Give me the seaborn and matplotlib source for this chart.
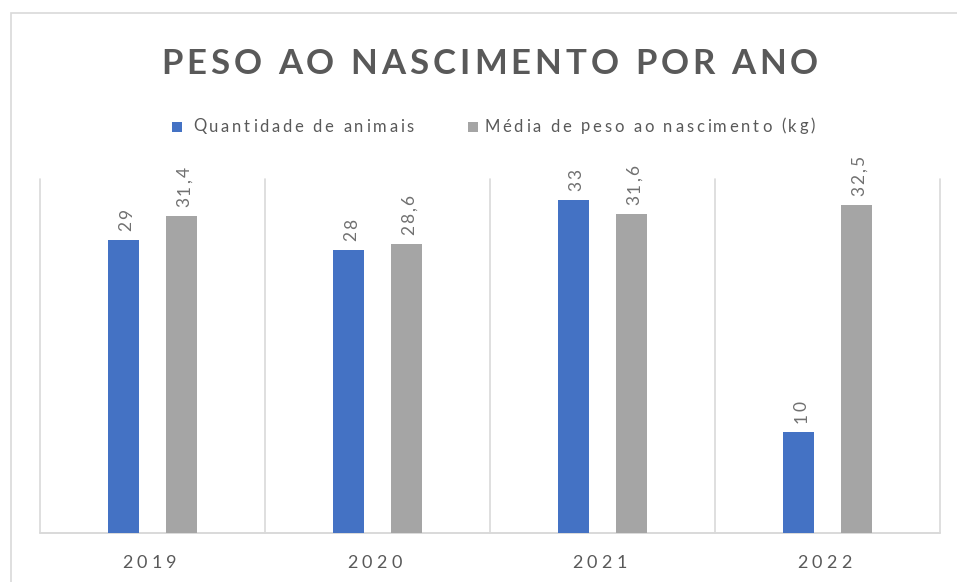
import matplotlib
matplotlib.use("Agg")
import matplotlib.pyplot as plt
import pandas as pd
import seaborn as sns
from matplotlib.font_manager import FontProperties, findfont, get_font
from matplotlib.patches import Rectangle
from matplotlib.transforms import IdentityTransform

# ---- data ----
anos = ["2019", "2020", "2021", "2022"]
quantidade = [29, 28, 33, 10]
peso_medio = [31.4, 28.6, 31.6, 32.5]
series = ["Quantidade de animais", "Média de peso ao nascimento (kg)"]
cores = ["#4472C4", "#A5A5A5"]
titulo = "PESO AO NASCIMENTO POR ANO"

df = pd.DataFrame({
    "Ano": anos * 2,
    "Série": [series[0]] * len(anos) + [series[1]] * len(anos),
    "Valor": quantidade + peso_medio,
})

sns.set_theme(style="white")
plt.rcParams["font.family"] = ["Lato", "DejaVu Sans"]

W, H = 957, 582
fig = plt.figure(figsize=(W / 100, H / 100), dpi=100)
fig.patch.set_facecolor("white")

TXT = "#595959"
GRID = "#D9D9D9"


def fx(px):
    return px / W


def fy(py):
    return 1 - py / H


def advances(s, prop):
    font = get_font(findfont(prop))
    font.set_size(prop.get_size_in_points(), 100)
    return [font.load_char(ord(c)).linearHoriAdvance / 65536 for c in s]


def tracked(s, x, y, size, track, color=TXT, weight="normal", rot=0, align="center"):
    """Draw letter-spaced text; x, y are pixel coords (y measured downward)."""
    prop = FontProperties(family=["Lato"], size=size, weight=weight)
    adv = advances(s, prop)
    total = sum(adv) + track * (len(s) - 1)
    pos = {"left": 0.0, "center": -total / 2, "right": -total}[align]
    for c, a in zip(s, adv):
        if c != " ":
            if rot == 0:
                px, py = x + pos, H - y
            else:
                px, py = x, H - y + pos
            fig.text(px, py, c, fontproperties=prop, color=color, rotation=rot,
                     rotation_mode="anchor", ha="left", va="baseline",
                     transform=IdentityTransform())
        pos += a + track


# outer chart frame
fig.patches.append(Rectangle((10.5, -20), 1000, H - 12.5 + 20, transform=IdentityTransform(),
                             fill=False, edgecolor=GRID, lw=1.2))

ax = fig.add_axes([fx(40), fy(533), fx(940) - fx(40), fy(179) - fy(533)])
sns.barplot(data=df, x="Ano", y="Valor", hue="Série", hue_order=series, order=anos,
            palette=cores, saturation=1, width=0.512, gap=0.462, legend=False,
            edgecolor="none", linewidth=0, errorbar=None, ax=ax)
ax.set_xlim(-0.5, len(anos) - 0.5)
ax.set_ylim(0, 35.05)
ax.set_xlabel("")
ax.set_ylabel("")
ax.set_xticks([])
ax.set_yticks([])
for sp in ax.spines.values():
    sp.set_visible(False)
ax.set_facecolor("none")

for b in range(len(anos) + 1):
    ax.axvline(b - 0.5, color=GRID, lw=1.2, clip_on=False, zorder=0)
ax.axhline(0, color=GRID, lw=1.4, clip_on=False, zorder=0)

fig.canvas.draw()

# value labels above each bar
for p in ax.patches:
    v = p.get_height()
    if v <= 0:
        continue
    cx = p.get_x() + p.get_width() / 2
    dx, dy = ax.transData.transform((cx, v))
    lab = f"{v:g}".replace(".", ",")
    tracked(lab, dx + 8, (H - dy) - 9, 12.5, 2.0, color="#707070", rot=90, align="left")

# category labels
for i, ano in enumerate(anos):
    dx, _ = ax.transData.transform((i, 0))
    tracked(ano, dx - 3, 568, 13, 4.3)

# title
tracked(titulo, 489.5, 74.5, 25, 4.0, weight="bold")

# legend
leg_items = [(172, 193), (468, 484)]
for (sx, tx), name, col in zip(leg_items, series, cores):
    fig.patches.append(Rectangle((sx, H - 131.5), 9.5, 9.5, transform=IdentityTransform(),
                                 facecolor=col, edgecolor="none"))
    tracked(name, tx, 131.5, 12, 2.7, align="left")

fig.savefig("out.png", dpi=100)
